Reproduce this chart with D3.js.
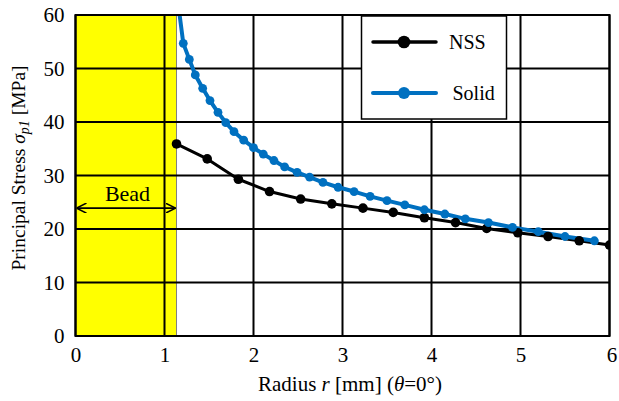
<!DOCTYPE html>
<html><head><meta charset="utf-8">
<script src="https://cdn.jsdelivr.net/npm/d3@7"></script>
<style>body{margin:0;background:#fff}svg{display:block}svg text{font-family:"Liberation Serif","Times New Roman",Times,serif;fill:#000}</style>
</head><body>
<svg id="c" width="619" height="401"></svg>
<script>
const xTicks = [0,1,2,3,4,5,6];
const yTicks = [0,10,20,30,40,50,60];
const beadRange = [0, 1.135];
const nssR = [1.135,1.48,1.83,2.18,2.53,2.88,3.23,3.57,3.92,4.27,4.62,4.97,5.31,5.66,6.0];
const nssS = [35.9,33.1,29.3,27.0,25.6,24.7,23.9,23.1,22.1,21.2,20.1,19.3,18.6,17.8,17.0];
const solidR = [1.135,1.211,1.279,1.346,1.429,1.511,1.601,1.688,1.781,1.89,2.0,2.11,2.23,2.35,2.49,2.63,2.78,2.95,3.13,3.31,3.50,3.70,3.92,4.15,4.38,4.64,4.91,5.20,5.50,5.83];
const solidS = [64.5,54.7,51.7,48.8,46.3,44.0,41.8,39.9,38.2,36.6,35.2,34.0,32.8,31.6,30.6,29.7,28.7,27.8,27.0,26.1,25.3,24.5,23.6,22.8,21.9,21.2,20.3,19.5,18.6,17.8];
const seriesNames = ["NSS","Solid"];
const seriesColors = ["#000000","#0070C0"];

const FONT = '"Liberation Serif","Times New Roman",Times,serif';
const svg = d3.select("#c").style("font-family",FONT);
const L=75.5, R=609.5, T=15, B=336;
const x = d3.scaleLinear().domain([0,6]).range([L,R]);
const y = d3.scaleLinear().domain([0,60]).range([B,T]);

svg.append("defs").append("clipPath").attr("id","clip")
  .append("rect").attr("x",L).attr("y",T).attr("width",R-L).attr("height",B-T);

svg.append("rect").attr("x",x(beadRange[0])).attr("y",T).attr("width",x(beadRange[1])-x(beadRange[0])).attr("height",B-T)
  .attr("fill","#FFFF00").attr("stroke","#808080").attr("stroke-width",1);

const g = svg.append("g");
g.selectAll(".vx").data(xTicks).join("line").attr("x1",d=>x(d)).attr("x2",d=>x(d)).attr("y1",T).attr("y2",B)
  .attr("stroke","#000").attr("stroke-width",2);
g.selectAll(".hy").data(yTicks).join("line").attr("x1",L).attr("x2",R).attr("y1",d=>y(d)).attr("y2",d=>y(d))
  .attr("stroke","#000").attr("stroke-width",2);

const xa = svg.append("g").attr("transform",`translate(0,${B})`)
  .call(d3.axisBottom(x).tickValues(xTicks).tickFormat(d3.format("d")).tickSize(0).tickPadding(12));
const ya = svg.append("g").attr("transform",`translate(${L},0)`)
  .call(d3.axisLeft(y).tickValues(yTicks).tickFormat(d3.format("d")).tickSize(0).tickPadding(11));
[xa,ya].forEach(a=>{a.attr("font-family",FONT).attr("font-size",21);a.select(".domain").remove();
  a.selectAll("text").style("font-family",FONT).style("font-size","21px");});
xa.selectAll("text").attr("dy","0.71em").attr("y",11);
xa.selectAll("text").filter(d=>d===6).attr("dx",2);

const ay = y(23.9);
const mk = svg.append("defs");
mk.append("marker").attr("id","ah").attr("viewBox","0 0 10 10").attr("refX",10).attr("refY",5)
  .attr("markerWidth",10).attr("markerHeight",10).attr("markerUnits","userSpaceOnUse").attr("orient","auto-start-reverse")
  .append("path").attr("d","M0,0L10,5L0,10").attr("fill","none").attr("stroke","#000").attr("stroke-width",1.6);
svg.append("line").attr("x1",x(0)+1).attr("x2",x(beadRange[1])-1).attr("y1",ay).attr("y2",ay)
  .attr("stroke","#000").attr("stroke-width",1.6).attr("marker-end","url(#ah)").attr("marker-start","url(#ah)");
svg.append("text").attr("x",(x(0)+x(beadRange[1]))/2+1.5).attr("y",ay-7).attr("text-anchor","middle")
  .style("font-size","22px").text("Bead");

const plot = svg.append("g").attr("clip-path","url(#clip)");
const sets = [
  {r:nssR,s:nssS,c:seriesColors[0],w:3,rad:4.8},
  {r:solidR,s:solidS,c:seriesColors[1],w:4,rad:4.4}
];
sets.forEach(st=>{
  const pts = st.r.map((d,i)=>[d,st.s[i]]);
  plot.append("path").datum(pts).attr("d",d3.line().x(d=>x(d[0])).y(d=>y(d[1])))
    .attr("fill","none").attr("stroke",st.c).attr("stroke-width",st.w).attr("stroke-linejoin","round");
});
sets.forEach(st=>{
  const pts = st.r.map((d,i)=>[d,st.s[i]]);
  plot.selectAll(null).data(pts.filter(p=>p[1]<=60)).join("circle").attr("cx",d=>x(d[0])).attr("cy",d=>y(d[1]))
    .attr("r",st.rad).attr("fill",st.c);
});

svg.append("rect").attr("x",L).attr("y",T).attr("width",R-L).attr("height",B-T).attr("fill","none").attr("stroke","#000").attr("stroke-width",2);

const lg = svg.append("g");
lg.append("rect").attr("x",361.5).attr("y",16).attr("width",145).attr("height",103).attr("fill","#fff").attr("stroke","#000").attr("stroke-width",1.5);
const ly = [42,93];
seriesNames.forEach((n,i)=>{
  lg.append("line").attr("x1",373).attr("x2",436).attr("y1",ly[i]).attr("y2",ly[i]).attr("stroke",seriesColors[i]).attr("stroke-width",i?4:3.5).attr("stroke-linecap","round");
  lg.append("circle").attr("cx",404).attr("cy",ly[i]).attr("r",i?6:6.3).attr("fill",seriesColors[i]);
  lg.append("text").attr("x",i?452.5:449).attr("y",ly[i]+7).style("font-size","20px").text(n);
});

svg.append("text").attr("x",350).attr("y",391).attr("text-anchor","middle").style("font-size","21px")
  .html('Radius <tspan font-style="italic">r</tspan> [mm] (<tspan font-style="italic">θ</tspan>=0°)');
svg.append("text").attr("transform",`translate(25,168) rotate(-90)`).attr("text-anchor","middle").style("font-size","19.5px")
  .html('Principal Stress <tspan font-style="italic">σ</tspan><tspan font-style="italic" font-size="14" dy="4">p1</tspan><tspan dy="-4"> [MPa]</tspan>');
</script>
</body></html>
